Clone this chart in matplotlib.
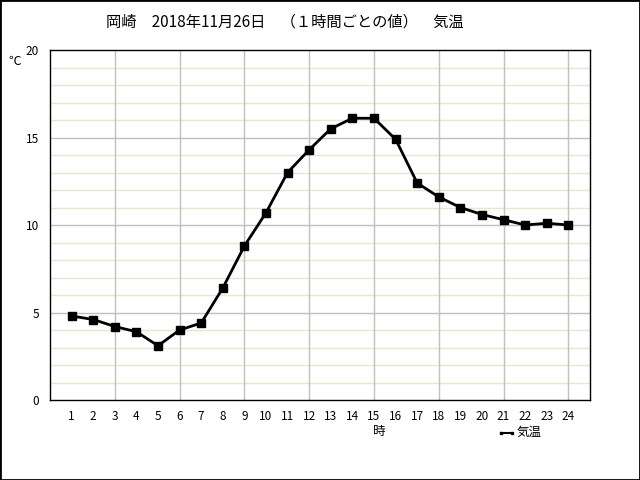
import matplotlib
matplotlib.use("Agg")
import matplotlib.pyplot as plt
from matplotlib.patches import Rectangle

plt.rcParams['font.family'] = ['Noto Sans CJK JP', 'DejaVu Sans']

# 岡崎 2018年11月26日 1時間ごとの気温
hours = list(range(1, 25))
temps = [4.8, 4.6, 4.2, 3.9, 3.1, 4.0, 4.4, 6.4, 8.8, 10.7, 13.0, 14.3,
         15.5, 16.1, 16.1, 14.9, 12.4, 11.6, 11.0, 10.6, 10.3, 10.0, 10.1, 10.0]
y_major = [0, 5, 10, 15, 20]
y_minor = [v for v in range(1, 20) if v % 5 != 0]
x_grid = [3, 6, 9, 12, 15, 18, 21, 24]

W, H = 640, 480
fig = plt.figure(figsize=(6.4, 4.8), dpi=100)
ax = fig.add_axes([50 / W, 1 - 400 / H, 540 / W, 350 / H])

ax.set_xlim(0, 25)
ax.set_ylim(0, 20)

for v in y_minor:
    ax.axhline(v, color='#ebe4cf', lw=1, zorder=1)
for v in y_major[1:-1]:
    ax.axhline(v, color='#c0c0c0', lw=1, zorder=1)
for v in x_grid:
    ax.axvline(v, color='#c0c0c0', lw=1, zorder=1)

ax.plot(hours, temps, color='black', lw=2, marker='s', markersize=5.5, zorder=3)

ax.set_xticks(hours)
ax.set_xticklabels([str(h) for h in hours], fontsize=8.5)
ax.set_yticks(y_major)
ax.set_yticklabels([str(v) for v in y_major], fontsize=8.5)
ax.tick_params(length=0, pad=7)
ax.tick_params(axis='y', pad=8)
for s in ax.spines.values():
    s.set_color('black')
    s.set_linewidth(1)

fig.text(285 / W, 1 - 22 / H, '岡崎　2018年11月26日　（１時間ごとの値）　気温',
         ha='center', va='center', fontsize=11)
fig.text(15 / W, 1 - 61 / H, '℃', ha='center', va='center', fontsize=9)
fig.text(379 / W, 1 - 432 / H, '時', ha='center', va='center', fontsize=9)

# legend
fig.lines.append(plt.Line2D([501 / W, 512 / W], [1 - 433 / H, 1 - 433 / H],
                            transform=fig.transFigure, color='black', lw=1.5,
                            marker='s', markersize=2, markevery=[0, 1]))
fig.text(517 / W, 1 - 432 / H, '気温', ha='left', va='center', fontsize=9)

# outer frame
fig.patches.append(Rectangle((0, 0), 1, 1, transform=fig.transFigure,
                             fill=False, edgecolor='black', lw=2))

fig.savefig('out.png', dpi=100)
